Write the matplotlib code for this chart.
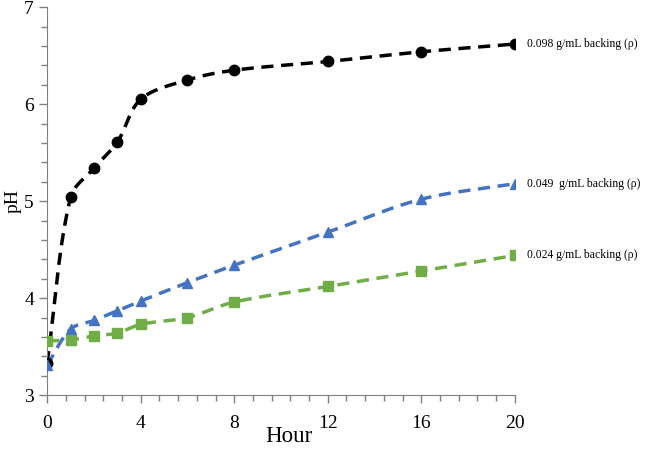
import numpy as np
import matplotlib
matplotlib.use("Agg")
import matplotlib.pyplot as plt

plt.rcParams['font.family'] = ['Liberation Serif', 'DejaVu Serif']

hours = [0, 1, 2, 3, 4, 6, 8, 12, 16, 20]
ph_098 = [3.33, 5.04, 5.34, 5.61, 6.05, 6.25, 6.35, 6.44, 6.54, 6.62]
ph_049 = [3.31, 3.68, 3.77, 3.87, 3.97, 4.16, 4.34, 4.68, 5.02, 5.18]
ph_024 = [3.56, 3.57, 3.61, 3.64, 3.73, 3.80, 3.96, 4.12, 4.28, 4.44]

labels = ['0.098 g/mL backing (\u03c1)', '0.049  g/mL backing (\u03c1)', '0.024 g/mL backing (\u03c1)']
colors = ['#000000', '#4472C4', '#70AD47']
markers = ['o', '^', 's']


def smooth(ax, x, y, n=30):
    # smoothed line through the points, done in screen space so the
    # short/long segments don't overshoot (roughly what excel does)
    pts = ax.transData.transform(np.column_stack([x, y]))
    p = np.vstack([2 * pts[0] - pts[1], pts, 2 * pts[-1] - pts[-2]])
    out = []
    t = np.linspace(0, 1, n)[:, None]
    for i in range(1, len(p) - 2):
        p0, p1, p2, p3 = p[i - 1], p[i], p[i + 1], p[i + 2]
        d01 = np.linalg.norm(p1 - p0)
        d12 = np.linalg.norm(p2 - p1)
        d23 = np.linalg.norm(p3 - p2)
        b1 = p1 + (p2 - p0) * d12 / (d01 + d12) / 3
        b2 = p2 - (p3 - p1) * d12 / (d12 + d23) / 3
        seg = (1 - t) ** 3 * p1 + 3 * (1 - t) ** 2 * t * b1 + 3 * (1 - t) * t ** 2 * b2 + t ** 3 * p2
        out.append(seg)
    out = ax.transData.inverted().transform(np.vstack(out))
    return out[:, 0], out[:, 1]


fig = plt.figure(figsize=(6.46, 4.49), dpi=100)
ax = fig.add_axes([0.073, 0.12, 0.724, 0.864])
ax.set_xlim(0, 20)
ax.set_ylim(3, 7)

for series, c, m, lab in zip([ph_098, ph_049, ph_024], colors, markers, labels):
    sx, sy = smooth(ax, hours, series)
    ax.plot(sx, sy, color=c, lw=2.5, ls=(0, (3.5, 2.2)), zorder=2)
    ax.plot(hours, series, ls='none', marker=m, color=c, ms=7.5, zorder=3)
    ax.annotate(lab, (hours[-1], series[-1]), xytext=(8.5, 0), textcoords='offset points',
                va='center', ha='left', fontsize=8.4, annotation_clip=False)

ax.set_xticks([0, 4, 8, 12, 16, 20])
ax.set_xticks(np.arange(0, 20.01, 0.8), minor=True)
ax.set_yticks([3, 4, 5, 6, 7])
ax.set_yticks(np.arange(3, 7.01, 0.2), minor=True)
ax.tick_params(axis='both', which='major', labelsize=14, length=6, color='#808080', width=1)
ax.tick_params(axis='both', which='minor', length=4, color='#808080', width=1)
ax.tick_params(axis='x', pad=8)

for s in ['top', 'right']:
    ax.spines[s].set_visible(False)
for s in ['left', 'bottom']:
    ax.spines[s].set_color('#808080')

fig.text(289 / 646, 1 - 437 / 449, 'Hour', fontsize=16.5, ha='center', va='center')
ax.set_ylabel('pH', fontsize=14, labelpad=2)

fig.savefig('out.png', dpi=100)
